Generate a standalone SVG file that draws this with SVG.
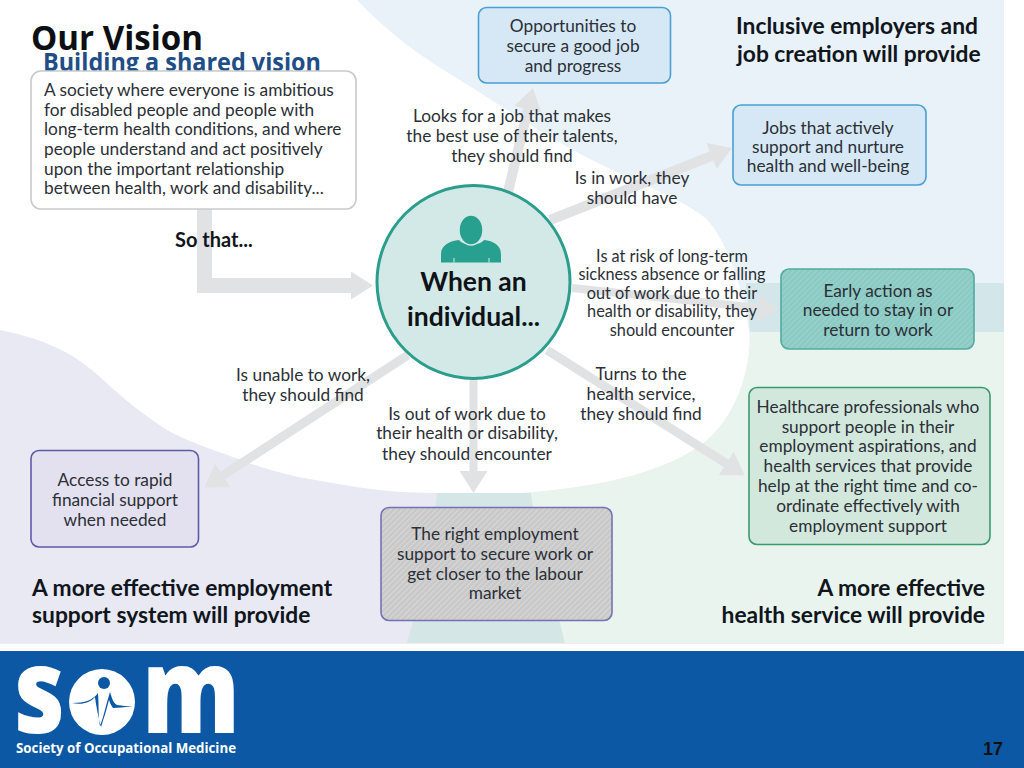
<svg xmlns="http://www.w3.org/2000/svg" width="1024" height="768" viewBox="0 0 1024 768">
<style>
.t{font-family:"Lato","Noto Sans",sans-serif;font-size:17.3px;fill:#2b2f36;text-anchor:middle}
.l{text-anchor:start}
.r{font-size:16.300px}
.h{font-family:"Lato","Noto Sans",sans-serif;font-size:22.800px;font-weight:700;fill:#11151c}
.e{text-anchor:end}
.box{stroke-width:1.6}
.arr{fill:none;stroke:#e1e2e4;marker-end:url(#head)}
.c{font-family:"Lato",sans-serif;font-weight:700;font-size:26.500px;fill:#0f1318;text-anchor:middle}
</style>
<defs>
<marker id="head" markerUnits="userSpaceOnUse" markerWidth="24" markerHeight="32" refX="1" refY="16" orient="auto"><path d="M0 2L22 16L0 30Z" fill="#e1e2e4"/></marker>
<pattern id="hg" width="4" height="4" patternUnits="userSpaceOnUse" patternTransform="rotate(45)"><rect width="4" height="4" fill="#c8c8c9"/><rect width="1.300" height="4" fill="#d6d6d7"/></pattern>
<pattern id="ht" width="4" height="4" patternUnits="userSpaceOnUse" patternTransform="rotate(45)"><rect width="4" height="4" fill="#8bcac3"/><rect width="1.300" height="4" fill="#99d2cc"/></pattern>
</defs>
<rect width="1024" height="768" fill="#fff"/>
<g id="background">
<rect width="1004" height="643" fill="#fff"/>
<path d="M357 0C395 40 430 62 471 87C510 112 550 138 586 157C630 180 675 195 704 217C725 235 745 290 750 340L1004 340V0Z" fill="#e9f2f9"/>
<path d="M746 283H1004V332H750Z" fill="#d3e6e9"/>
<path d="M750 332H1004V643H530V493H520C590 488 665 475 707 440C735 415 750 375 750 332Z" fill="#e9f4ee"/>
<path d="M0 330C50 340 75 355 100 377C125 400 140 412 167 430C195 445 215 450 233 457C270 472 300 478 333 483C370 490 400 493 440 493V643H0Z" fill="#e8e9f3"/>
<path d="M437 493H531C536 540 555 600 565 643H407C420 600 432 540 437 493Z" fill="#d5e6e6"/>
<rect y="643" width="1004" height="1" fill="#eceef2"/>
</g>
<g id="connectors">
<path class="arr" stroke-width="15" d="M204.500 209V285.500H352"/>
<path class="arr" stroke-width="10" d="M508 192L528 108.400"/>
<path class="arr" stroke-width="10" d="M550 220L712.500 155.700"/>
<path class="arr" stroke-width="8" d="M572 288L758 308"/>
<path class="arr" stroke-width="9" d="M547 350L727 464"/>
<path class="arr" stroke-width="8" d="M473.500 376V472"/>
<path class="arr" stroke-width="9" d="M408 355L222 476"/>
</g>
<g id="title">
<text x="31" y="50" font-family="Open Sans,sans-serif" font-weight="700" font-size="34" fill="#0c0f14" textLength="172" lengthAdjust="spacingAndGlyphs">Our Vision</text>
<text x="43" y="71" font-family="Open Sans,sans-serif" font-weight="700" font-size="25" fill="#1f4e86" textLength="278" lengthAdjust="spacingAndGlyphs">Building a shared vision</text>
</g>
<g id="n-society">
<rect class="box" x="31" y="71" width="325" height="138" rx="10" fill="#fff" stroke="#c9cacc"/>
<text class="t l" x="44" y="96">A society where everyone is ambitious</text>
<text class="t l" x="44" y="116">for disabled people and people with</text>
<text class="t l" x="44" y="135">long-term health conditions, and where</text>
<text class="t l" x="44" y="155">people understand and act positively</text>
<text class="t l" x="44" y="175">upon the important relationship</text>
<text class="t l" x="44" y="194">between health, work and disability...</text>
</g>
<text id="so-that" class="h" x="175" y="247" style="font-size:20px">So that...</text>
<g id="n-individual">
<circle cx="473.500" cy="282" r="96.500" fill="#d2e9e7" stroke="#2a9d8c" stroke-width="3"/>
<path d="M441 262.500V254C441 245 450 241 459 240C463 246 480 246 484 240C493 241 501 245 501 254V262.500Z" fill="#28a08f"/>
<ellipse cx="471" cy="230" rx="12" ry="15" fill="#28a08f" stroke="#d2e9e7" stroke-width="1.500"/>
<path d="M454 258V262.500M489 258V262.500" stroke="#d2e9e7" stroke-width="1"/>
<text class="c" x="473.500" y="291">When an</text>
<text class="c" x="473.500" y="326">individual...</text>
</g>
<g id="n-opportunities">
<rect class="box" x="478.500" y="7.500" width="192" height="75.500" rx="8" fill="#d6e8f5" stroke="#4a9fd4"/>
<text class="t" x="573" y="32">Opportunities to</text>
<text class="t" x="573" y="52">secure a good job</text>
<text class="t" x="573" y="72">and progress</text>
</g>
<g id="n-jobs">
<rect class="box" x="733" y="105" width="193" height="80" rx="8" fill="#d6e8f5" stroke="#4a9fd4"/>
<text class="t" x="828" y="134">Jobs that actively</text>
<text class="t" x="828" y="153">support and nurture</text>
<text class="t" x="828" y="172">health and well-being</text>
</g>
<g id="n-early">
<rect class="box" x="781" y="269" width="193" height="80" rx="8" fill="url(#ht)" stroke="#52ab9f"/>
<text class="t" x="878" y="297">Early action as</text>
<text class="t" x="878" y="316">needed to stay in or</text>
<text class="t" x="878" y="336">return to work</text>
</g>
<g id="n-healthcare">
<rect class="box" x="749" y="387.500" width="241" height="157" rx="8" fill="#d3e8dd" stroke="#3a9a6e"/>
<text class="t" x="868" y="413">Healthcare professionals who</text>
<text class="t" x="868" y="433">support people in their</text>
<text class="t" x="868" y="452">employment aspirations, and</text>
<text class="t" x="868" y="472">health services that provide</text>
<text class="t" x="868" y="492">help at the right time and co-</text>
<text class="t" x="868" y="512">ordinate effectively with</text>
<text class="t" x="868" y="532">employment support</text>
</g>
<g id="n-employment">
<rect class="box" x="381" y="507.500" width="231" height="113" rx="8" fill="url(#hg)" stroke="#7472b4"/>
<text class="t" x="495" y="540">The right employment</text>
<text class="t" x="495" y="560">support to secure work or</text>
<text class="t" x="495" y="580">get closer to the labour</text>
<text class="t" x="495" y="599">market</text>
</g>
<g id="n-access">
<rect class="box" x="31" y="450.500" width="167.500" height="96.500" rx="8" fill="#e3e1ef" stroke="#5f5aa8"/>
<text class="t" x="115" y="486">Access to rapid</text>
<text class="t" x="115" y="506">financial support</text>
<text class="t" x="115" y="526">when needed</text>
</g>
<g id="labels">
<text class="t" x="512" y="122">Looks for a job that makes</text>
<text class="t" x="512" y="142">the best use of their talents,</text>
<text class="t" x="512" y="162">they should find</text>
<text class="t" x="632" y="184">Is in work, they</text>
<text class="t" x="632" y="204">should have</text>
<text class="t r" x="672" y="262">Is at risk of long-term</text>
<text class="t r" x="672" y="280">sickness absence or falling</text>
<text class="t r" x="672" y="299">out of work due to their</text>
<text class="t r" x="672" y="317">health or disability, they</text>
<text class="t r" x="672" y="336">should encounter</text>
<text class="t" x="641" y="380">Turns to the</text>
<text class="t" x="641" y="400">health service,</text>
<text class="t" x="641" y="420">they should find</text>
<text class="t" x="467" y="420">Is out of work due to</text>
<text class="t" x="467" y="439">their health or disability,</text>
<text class="t" x="467" y="460">they should encounter</text>
<text class="t" x="303" y="381">Is unable to work,</text>
<text class="t" x="303" y="401">they should find</text>
</g>
<g id="headings">
<text class="h" x="736" y="34">Inclusive employers and</text>
<text class="h" x="737" y="62">job creation will provide</text>
<text class="h" x="32" y="596">A more effective employment</text>
<text class="h" x="32" y="623">support system will provide</text>
<text class="h e" x="985" y="596">A more effective</text>
<text class="h e" x="985" y="623">health service will provide</text>
</g>
<rect id="footer-bar" y="651" width="1024" height="117" fill="#0c58a4"/>
<g id="logo">
<text x="14" y="733" font-family="Open Sans,sans-serif" font-weight="800" font-size="118" fill="#fff" textLength="51" lengthAdjust="spacingAndGlyphs">s</text>
<circle cx="102" cy="702" r="33" fill="#fff"/>
<circle cx="104" cy="683" r="6" fill="#0c58a4"/>
<path d="M72 703C85 703 93 700 98 693C99 705 98 715 100 726C104 716 106 704 110 692C112 698 113 703 117 705C122 706 128 706 133 706C125 707 118 708 113 708C110 704 110 702 109 700C107 708 104 718 101 727C98 716 96 705 95 697C90 703 82 705 72 703Z" fill="#0c58a4"/>
<text x="142" y="733" font-family="Open Sans,sans-serif" font-weight="800" font-size="118" fill="#fff" textLength="98" lengthAdjust="spacingAndGlyphs">m</text>
<text x="16" y="753" font-family="Open Sans,sans-serif" font-weight="700" font-size="13.500" fill="#fff" textLength="220" lengthAdjust="spacingAndGlyphs">Society of Occupational Medicine</text>
</g>
<text id="page-number" x="983" y="755" font-family="Liberation Sans,sans-serif" font-weight="700" font-size="18" fill="#111">17</text>
</svg>
